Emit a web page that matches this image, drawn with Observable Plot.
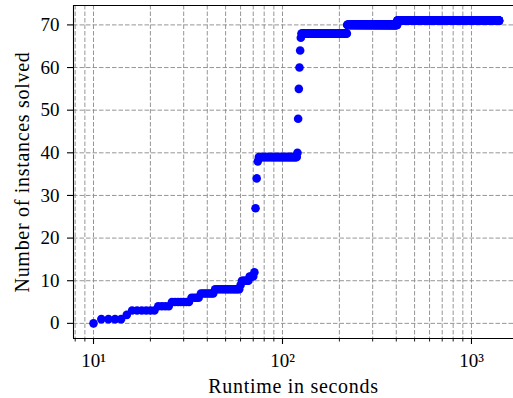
<!DOCTYPE html>
<html>
<head>
<meta charset="utf-8">
<script src="https://cdn.jsdelivr.net/npm/d3@7"></script>
<script src="https://cdn.jsdelivr.net/npm/@observablehq/plot@0.6"></script>
<style>
  html, body { margin: 0; padding: 0; background: #ffffff; }
  #chart { width: 513px; height: 398px; }
</style>
</head>
<body>
<div id="chart"></div>
<script>
// Runs of the cumulative curve: from runStart to runEnd (seconds, sampled every second)
// the number of solved instances equals runLevel.
const runStart = [10, 11, 15, 16, 22, 26, 33, 37, 44, 60, 61, 67, 71, 72, 73, 74, 75, 120, 121, 122, 123, 124, 125, 126, 220, 405];
const runEnd   = [10, 14, 15, 21, 25, 32, 36, 43, 59, 60, 66, 70, 71, 72, 73, 74, 119, 120, 121, 122, 123, 124, 125, 219, 404, 1400];
const runLevel = [0, 1, 2, 3, 4, 5, 6, 7, 8, 9, 10, 11, 12, 27, 34, 38, 39, 40, 48, 55, 60, 64, 67, 68, 70, 71];

const xMajorTicks = [10, 100, 1000];
const xMajorLabels = ["10\u00B9", "10\u00B2", "10\u00B3"];
const xMinorTicks = [8, 9, 20, 30, 40, 50, 60, 70, 80, 90, 200, 300, 400, 500, 600, 700, 800, 900];
const yTicks = [0, 10, 20, 30, 40, 50, 60, 70];

const xLabel = "Runtime in seconds";
const yLabel = "Number of instances solved";

// table of dots, one per sampled second
const points = [];
runStart.forEach((s, i) => {
  for (let t = s; t <= runEnd[i]; t++) points.push({t, n: runLevel[i]});
});

const xDomain = [7.836, 1668.6];
const yDomain = [-3.55, 74.55];
const font = "'Liberation Serif', 'Times New Roman', serif";
const gridStyle = {stroke: "#8a8a8a", strokeOpacity: 1, strokeWidth: 0.9, strokeDasharray: "4.5,2"};
const spine = {stroke: "#000", strokeWidth: 1.1};
const labelStyle = {fontSize: 20, fill: "#000", textAnchor: "middle", lineAnchor: "middle"};

const chart = Plot.plot({
  width: 513,
  height: 398,
  marginLeft: 73,
  marginRight: 0,
  marginTop: 5,
  marginBottom: 60,
  style: {fontFamily: font, fontSize: "19px", color: "#000", background: "#fff", overflow: "visible"},
  x: {type: "log", domain: xDomain},
  y: {domain: yDomain},
  marks: [
    Plot.gridX([...xMinorTicks, ...xMajorTicks], gridStyle),
    Plot.gridY(yTicks, gridStyle),
    Plot.dot(points, {x: "t", y: "n", r: 4.3, fill: "#0000ff", stroke: null}),
    Plot.ruleX([xDomain[0]], spine),
    Plot.ruleY([yDomain[0]], spine),
    Plot.ruleY([yDomain[1]], spine),
    Plot.axisX(xMajorTicks, {tickSize: 6, tickPadding: 9, strokeWidth: 1.1,
      tickFormat: d => xMajorLabels[xMajorTicks.indexOf(d)], label: null}),
    Plot.axisX(xMinorTicks, {tickSize: 3.5, strokeWidth: 0.9, tickFormat: () => "", label: null}),
    Plot.axisY(yTicks, {tickSize: 6, tickPadding: 8, strokeWidth: 1.1, label: null}),
    Plot.text([xLabel], {...labelStyle, frameAnchor: "bottom", dy: 48, text: d => d}),
    Plot.text([yLabel], {...labelStyle, frameAnchor: "left", dx: -51, rotate: -90, text: d => d})
  ]
});
chart.querySelectorAll("text").forEach(t => {
  if (t.textContent === xLabel || t.textContent === yLabel) t.style.letterSpacing = "0.7px";
});
document.getElementById("chart").appendChild(chart);
</script>
</body>
</html>
